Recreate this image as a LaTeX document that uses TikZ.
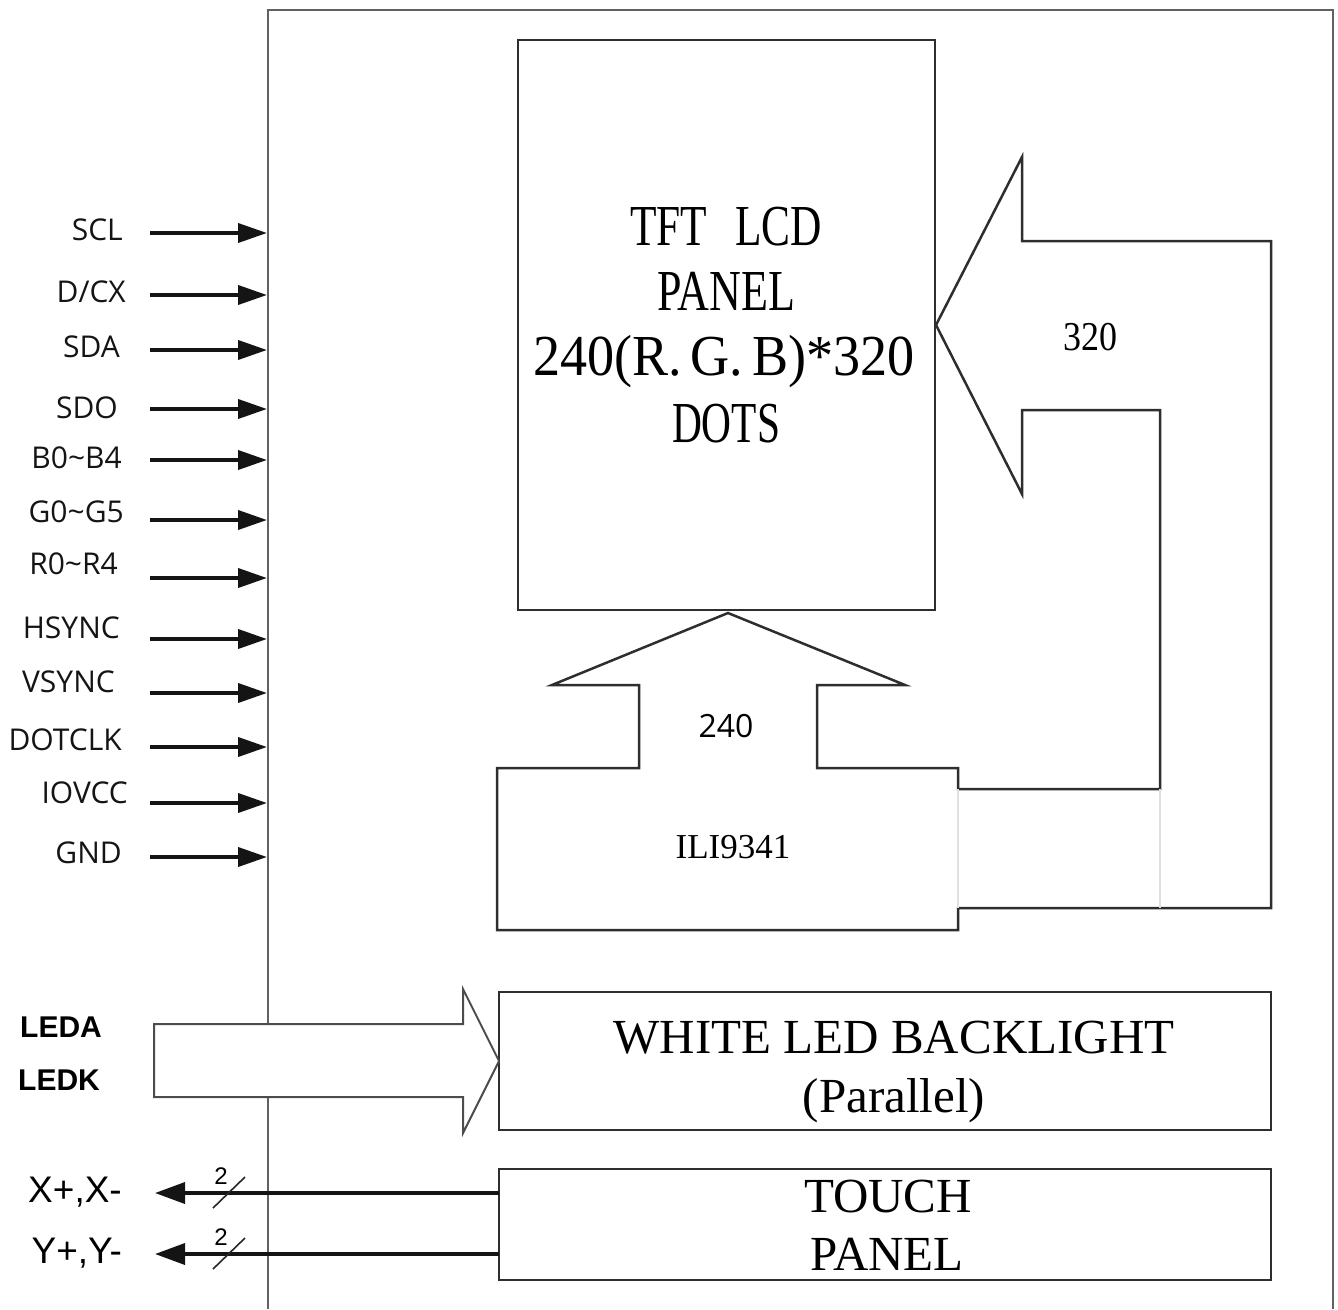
\documentclass[tikz,border=0pt]{standalone}
\usepackage{fontspec}
\usepackage{graphicx}
\setmainfont{Liberation Serif}
\newfontfamily\pinfont{Open Sans}
\newfontfamily\arialfont{Liberation Sans}
\usetikzlibrary{arrows.meta}
\tikzset{
  frameline/.style={draw=black!62, line width=2.8pt},
  boxline/.style={draw=black!82, line width=2.5pt},
  faintline/.style={draw=black!12, line width=1.4pt},
  blockbox/.style={boxline, rectangle, inner sep=0pt, minimum width=#1},
  pinarrow/.style={line width=3.8pt, black!92, -{Triangle[length=29pt,width=19pt]}},
  touchline/.style={line width=3.6pt, black!92, -{Triangle[length=30pt,width=21pt]}},
  slashline/.style={line width=1.6pt, black!85},
  pinlabel/.style={font=\pinfont\fontsize{30}{36}\selectfont, text=black!92, anchor=base east, inner sep=0pt},
  serifbig/.style={font=\fontsize{58}{60}\selectfont, anchor=base, inner sep=0pt},
  serifmid/.style={font=\fontsize{49}{52}\selectfont, anchor=base, inner sep=0pt},
  ledlabel/.style={font=\arialfont\bfseries\fontsize{30}{34}\selectfont, anchor=base west, inner sep=0pt},
  touchlabel/.style={font=\arialfont\fontsize{37}{40}\selectfont, anchor=base east, inner sep=0pt},
  smalltwo/.style={font=\arialfont\fontsize{24}{26}\selectfont, inner sep=0pt},
}
\begin{document}
\begin{tikzpicture}[x=1pt,y=-1pt]
\useasboundingbox (0,0) rectangle (1338,1309);

% outer frame (open at the bottom)
\draw[frameline] (268,1309) -- (268,10) -- (1333,10) -- (1333,1309);

% TFT LCD panel
\node[blockbox=417pt, minimum height=570pt] (tft) at (726.5,325) {};
\node[serifbig] (tftA) at (726,245) {\resizebox{192pt}{\height}{TFT\hspace{0.65em}LCD}};
\node[serifbig] (tftB) at (726,310) {\resizebox{138pt}{\height}{PANEL}};
\node[serifbig] (tftC) at (724,375) {\resizebox{382pt}{\height}{240(R.\,G.\,B)*320}};
\node[serifbig] (tftD) at (726,442) {\resizebox{108pt}{\height}{DOTS}};

% ILI9341 driver with its 240 and 320 arrows (one outline)
\draw[boxline, line join=miter] (497,930) -- (497,768) -- (639,768) -- (639,685) -- (552,685)
  -- (728,613) -- (905,685) -- (817,685) -- (817,768) -- (958,768) -- (958,789)
  -- (1160,789) -- (1160,410) -- (1022,410) -- (1022,494) -- (936,325) -- (1022,157)
  -- (1022,241) -- (1271,241) -- (1271,908) -- (958,908) -- (958,930) -- cycle;
\draw[faintline] (958,789) -- (958,908);
\draw[faintline] (1160,789) -- (1160,908);
\node[font=\pinfont\fontsize{32}{36}\selectfont, anchor=base, inner sep=0pt] (n240) at (726,737) {240};
\node[anchor=base, inner sep=0pt] (n320) at (1090,350) {\fontsize{41}{44}\selectfont\resizebox{54pt}{\height}{320}};
\node[font=\fontsize{35}{38}\selectfont, anchor=base, inner sep=0pt] (ili) at (733,858) {ILI9341};

% interface pins
\foreach \i/\txt/\rx/\by/\ay in {
  1/SCL/123/240/233,
  2/{D/CX}/126/302/295,
  3/SDA/120/357/350,
  4/SDO/118/418/409,
  5/{B0\textasciitilde B4}/122/468/460,
  6/{G0\textasciitilde G5}/124/522/520,
  7/{R0\textasciitilde R4}/118/574/578,
  8/HSYNC/120/638/639,
  9/VSYNC/115/692/693,
  10/DOTCLK/122/750/747,
  11/IOVCC/128/803/803,
  12/GND/122/863/857}
{
  \node[pinlabel] (pl\i) at (\rx,\by) {\txt};
  \coordinate (ps\i) at (150,\ay);
  \coordinate (pe\i) at (267,\ay);
  \draw[pinarrow] (ps\i) -- (pe\i);
}

% white LED backlight
\node[blockbox=772pt, minimum height=138pt] (led) at (885,1061) {};
\node[serifmid] (ledA) at (894,1053) {WHITE LED BACKLIGHT};
\node[serifmid] (ledB) at (894,1112) {(Parallel)};
\draw[boxline, line width=2pt, draw=black!70, fill=white, line join=miter]
  (154,1024) -- (463,1024) -- (463,989) -- (499,1061) -- (463,1133) -- (463,1097) -- (154,1097) -- cycle;
\node[ledlabel] (leda) at (20,1037) {LEDA};
\node[ledlabel] (ledk) at (18,1090) {LEDK};

% touch panel
\node[blockbox=772pt, minimum height=111pt] (touch) at (885,1224.5) {};
\node[serifmid] (tchA) at (888,1212) {TOUCH};
\node[serifmid] (tchB) at (887,1270) {PANEL};
\coordinate (tx0) at (499,1193);
\coordinate (tx1) at (155,1193);
\coordinate (ty0) at (499,1254);
\coordinate (ty1) at (155,1254);
\draw[touchline] (tx0) -- (tx1);
\draw[touchline] (ty0) -- (ty1);
\draw[slashline] (213,1208) -- (245,1177);
\draw[slashline] (213,1269) -- (245,1238);
\node[smalltwo] (twoA) at (221,1176) {2};
\node[smalltwo] (twoB) at (221,1237) {2};
\node[touchlabel] (xlab) at (122,1202) {X+,X-};
\node[touchlabel] (ylab) at (122,1263) {Y+,Y-};
\end{tikzpicture}
\end{document}
